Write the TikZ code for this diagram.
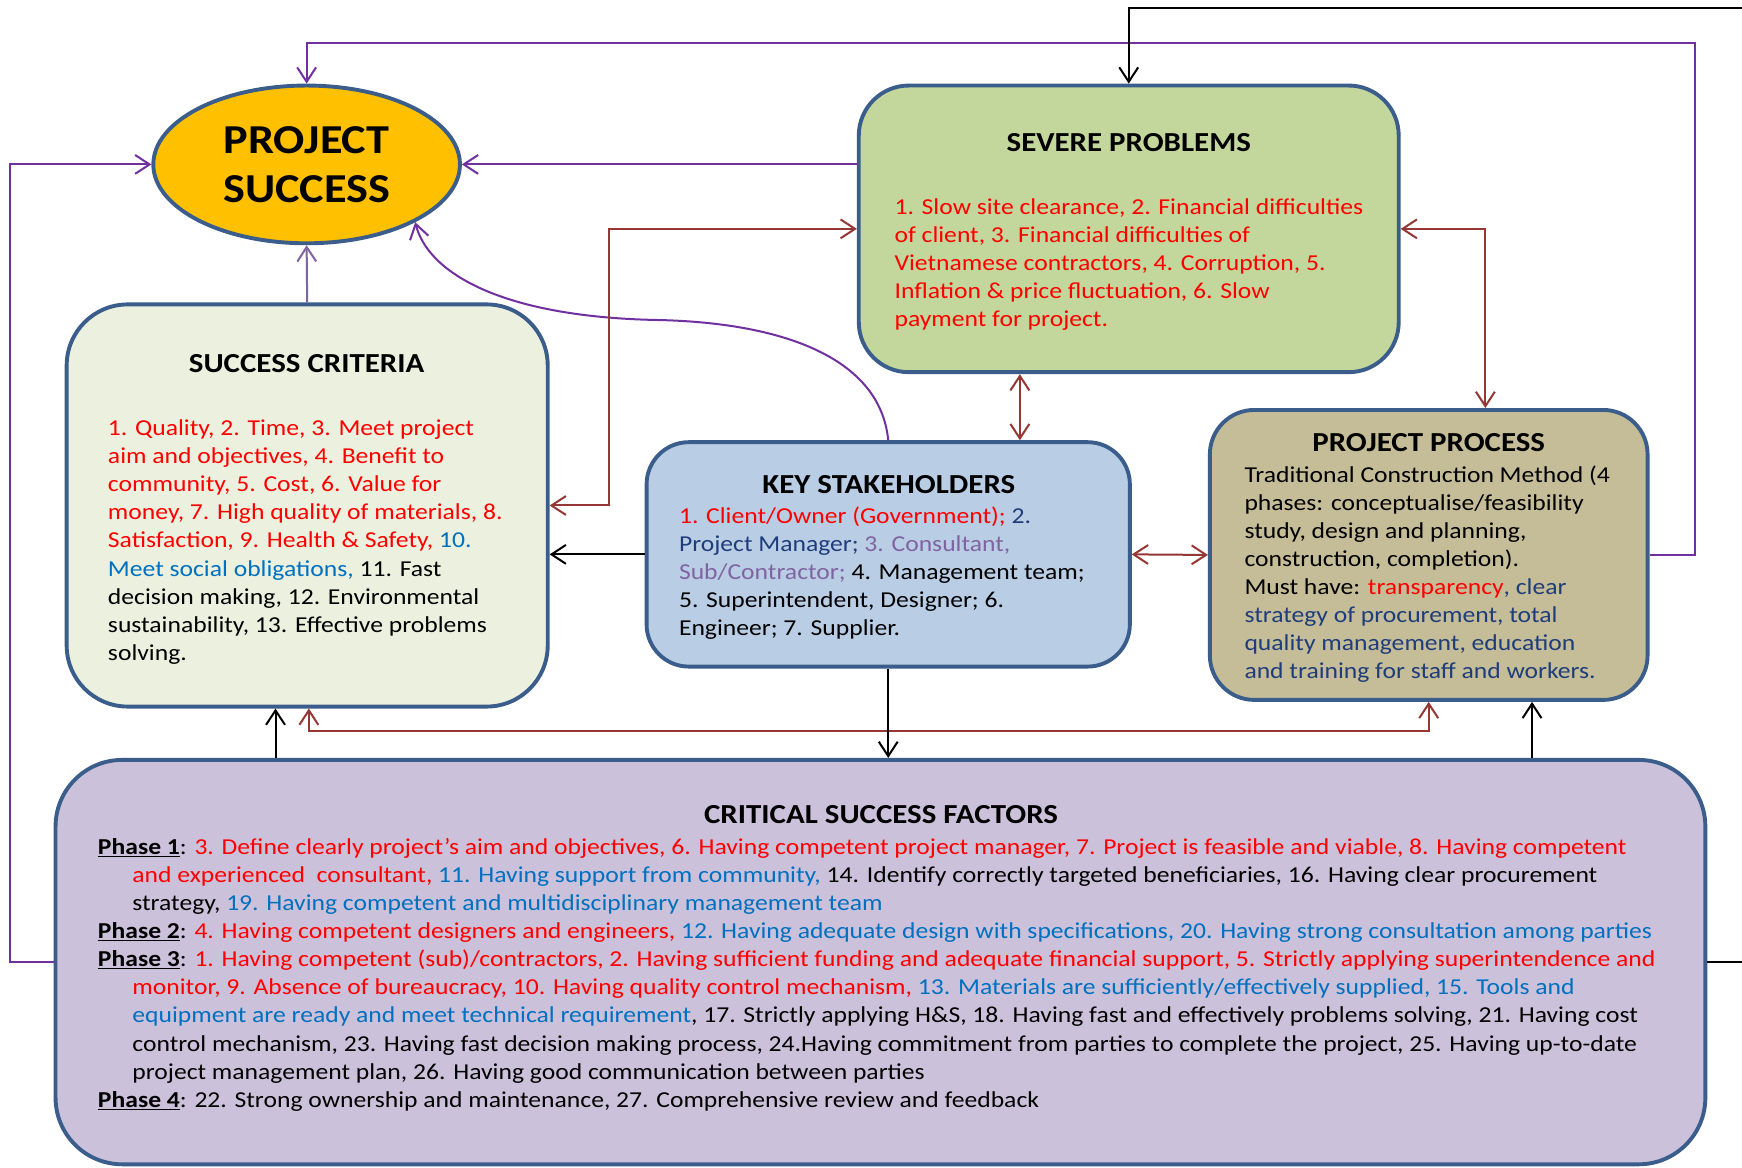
\documentclass[tikz,border=0pt]{standalone}
\usepackage{fontspec}
\setmainfont{Carlito}[FakeStretch=1.125]
\usetikzlibrary{arrows.meta,shapes.geometric}

\definecolor{boxline}{HTML}{3A5D8B}
\definecolor{psfill}{HTML}{FFC000}
\definecolor{spfill}{HTML}{C3D69B}
\definecolor{scfill}{HTML}{EBF1DE}
\definecolor{ksfill}{HTML}{B9CDE5}
\definecolor{ppfill}{HTML}{C4BD97}
\definecolor{csffill}{HTML}{CCC1DA}
\definecolor{txtred}{HTML}{FF0000}
\definecolor{txtblue}{HTML}{0070C0}
\definecolor{txtnavy}{HTML}{1F3D7A}
\definecolor{txtpurple}{HTML}{8064A2}
\definecolor{lnpurple}{HTML}{7030A0}
\definecolor{lnlilac}{HTML}{8064A2}
\definecolor{lnred}{HTML}{953735}

\newcommand\bodyf{\fontsize{20.5}{25.3}\selectfont}
\newcommand\titlef{\fontsize{24.75}{28}\selectfont\bfseries}
\newcommand\cRed[1]{{\color{txtred}#1}}
\newcommand\cBlue[1]{{\color{txtblue}#1}}
\newcommand\cNavy[1]{{\color{txtnavy}#1}}
\newcommand\cPurp[1]{{\color{txtpurple}#1}}
\newcommand\phaselbl[1]{\underline{\textbf{Phase #1}}}
\newcommand\ind{\hspace*{31pt}}

\begin{document}
\begin{tikzpicture}[x=1pt,y=-1pt,
  box/.style={draw=boxline,line width=3.5pt,rounded corners=#1,inner sep=0pt},
  box/.default=45pt,
  title/.style={font=\titlef,inner sep=0pt,anchor=center},
  % multi-line texts are placed by the baseline of their last line
  body/.style={font=\bodyf,inner sep=0pt,align=left,anchor=base west},
  conn/.style={line width=1.8pt},
  >={Straight Barb[length=13pt,width=17pt]}]

\fill[white] (0,0) rectangle (1568,1051);
\useasboundingbox (0,0) rectangle (1568,1051);

% boxes
\node[ellipse,draw=boxline,line width=3.5pt,fill=psfill,minimum width=276pt,minimum height=142pt,inner sep=0pt,
      font=\fontsize{37}{44}\selectfont\bfseries,align=center] (ps) at (276,148) {PROJECT\\SUCCESS};
\node[box=45pt,fill=spfill,minimum width=486pt,minimum height=258pt] (sp) at (1016,206) {};
\node[box=55pt,fill=scfill,minimum width=433pt,minimum height=362pt] (sc) at (276.5,455) {};
\node[box=38pt,fill=ksfill,minimum width=435pt,minimum height=202pt] (ks) at (799.5,499) {};
\node[box=40pt,fill=ppfill,minimum width=394pt,minimum height=261pt] (pp) at (1286,499.5) {};
\node[box=60pt,fill=csffill,minimum width=1485pt,minimum height=364pt] (csf) at (792.5,866) {};

% titles
\node[title] (spt) at (1016,128) {SEVERE PROBLEMS};
\node[title] (sct) at (276,327) {SUCCESS CRITERIA};
\node[title] (kst) at (800,436) {KEY STAKEHOLDERS};
\node[title] (ppt) at (1286,398) {PROJECT PROCESS};
\node[title] (csft) at (793,733) {CRITICAL SUCCESS FACTORS};

% texts
\node[body] (spb) at (805,294.2) {%
\cRed{1. Slow site clearance, 2. Financial difficulties}\\
\cRed{of client, 3. Financial difficulties of}\\
\cRed{Vietnamese contractors, 4. Corruption, 5.}\\
\cRed{Inflation \& price fluctuation, 6. Slow}\\
\cRed{payment for project.}};

\node[body] (scb) at (97,594.4) {%
\cRed{1. Quality, 2. Time, 3. Meet project}\\
\cRed{aim and objectives, 4. Benefit to}\\
\cRed{community, 5. Cost, 6. Value for}\\
\cRed{money, 7. High quality of materials, 8.}\\
\cRed{Satisfaction, 9. Health \& Safety, }\cBlue{10.}\\
\cBlue{Meet social obligations,} 11. Fast\\
decision making, 12. Environmental\\
sustainability, 13. Effective problems\\
solving.};

\node[body] (ksb) at (611,572.2) {%
\cRed{1. Client/Owner (Government); }\cNavy{2.}\\
\cNavy{Project Manager; }\cPurp{3. Consultant,}\\
\cPurp{Sub/Contractor; }4. Management team;\\
5. Superintendent, Designer; 6.\\
Engineer; 7. Supplier.};

\node[body] (ppb) at (1120,611.1) {%
Traditional Construction Method (4\\
phases: conceptualise/feasibility\\
study, design and planning,\\
construction, completion).\\
Must have: \cRed{transparency}\cNavy{, clear}\\
\cNavy{strategy of procurement, total}\\
\cNavy{quality management, education}\\
\cNavy{and training for staff and workers.}};

\node[body] (csfb) at (88,996.7) {%
\phaselbl{1}: \cRed{3. Define clearly project’s aim and objectives, 6. Having competent project manager, 7. Project is feasible and viable, 8. Having competent}\\
\ind\cRed{and experienced~ consultant, }\cBlue{11. Having support from community,} 14. Identify correctly targeted beneficiaries, 16. Having clear procurement\\
\ind strategy, \cBlue{19. Having competent and multidisciplinary management team}\\
\phaselbl{2}: \cRed{4. Having competent designers and engineers, }\cBlue{12. Having adequate design with specifications, 20. Having strong consultation among parties}\\
\phaselbl{3}: \cRed{1. Having competent (sub)/contractors, 2. Having sufficient funding and adequate financial support, 5. Strictly applying superintendence and}\\
\ind\cRed{monitor, 9. Absence of bureaucracy, 10. Having quality control mechanism, }\cBlue{13. Materials are sufficiently/effectively supplied, 15. Tools and}\\
\ind\cBlue{equipment are ready and meet technical requirement}, 17. Strictly applying H\&S, 18. Having fast and effectively problems solving, 21. Having cost\\
\ind control mechanism, 23. Having fast decision making process, 24.Having commitment from parties to complete the project, 25. Having up-to-date\\
\ind project management plan, 26. Having good communication between parties\\
\phaselbl{4}: 22. Strong ownership and maintenance, 27. Comprehensive review and feedback};

% connectors into PROJECT SUCCESS
\draw[conn,lnpurple,->] (pp.east) -- (1526,499.5) -- (1526,39) -- (276,39) -- (ps.north);
\draw[conn,lnpurple,->] (csf.west) -- (9,866) -- (9,148) -- (ps.west);
\draw[conn,lnpurple,->] (sp.west |- ps.east) -- (ps.east);
\draw[conn,lnlilac,->] (sc.north) -- (ps.south);
\draw[conn,lnpurple,->] (ks.north) .. controls (792,320) and (700,290) .. (590,288)
                                   .. controls (450,285) and (385,245) .. (ps.-28);

% feedback from CRITICAL SUCCESS FACTORS to SEVERE PROBLEMS
\draw[conn,black,->] (csf.east) -- (1580,866) -- (1580,7) -- (1016,7) -- (sp.north);

% two-way links
\draw[conn,lnred,<->] (sc.east) -- ++(53,0) |- (sp.west);
\draw[conn,lnred,<->] (sp.east) -| ([xshift=51pt]pp.north);
\draw[conn,lnred,<->] (sp.south -| 918,0) -- (ks.north -| 918,0);
\draw[conn,lnred,<->] (ks.east) -- (pp.west);
\draw[conn,lnred,<->] (sc.south -| 278,0) -- (278,658) -| (pp.south);

% one-way links
\draw[conn,black,->] (ks.west) -- (sc.east |- ks.west);
\draw[conn,black,->] (ks.south) -- (csf.north -| ks.south);
\draw[conn,black,->] (csf.north -| 248,0) -- (sc.south -| 248,0);
\draw[conn,black,->] (csf.north -| 1379,0) -- (pp.south -| 1379,0);

\end{tikzpicture}
\end{document}
